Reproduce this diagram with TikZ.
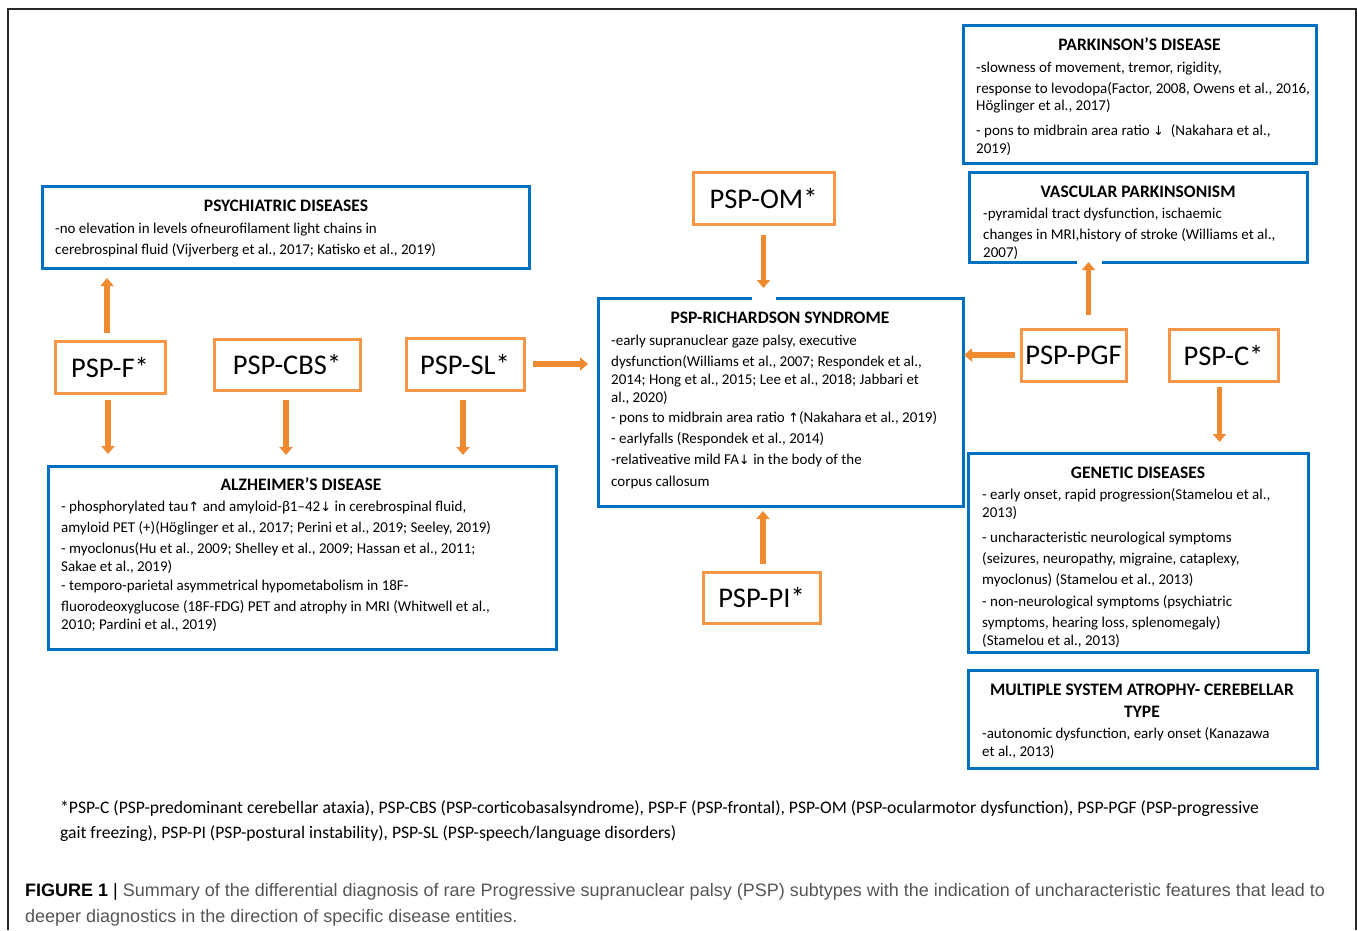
\documentclass[tikz,border=0pt]{standalone}
\usepackage{fontspec}
\setmainfont{Carlito}
\newfontfamily\capfont{Liberation Sans}
\newfontfamily\symfont{DejaVu Sans}
\usetikzlibrary{arrows.meta}
\definecolor{BoxBlue}{RGB}{0,112,192}
\definecolor{BoxOrange}{RGB}{247,150,70}
\definecolor{ArrOrange}{RGB}{240,138,48}
\definecolor{CapGray}{RGB}{85,85,85}
\definecolor{FrameGray}{RGB}{40,40,40}
\newcommand{\up}{{\symfont\fontsize{13}{13}\selectfont ↑}}
\newcommand{\dn}{{\symfont\fontsize{13}{13}\selectfont ↓}}
\tikzset{
  x=1pt, y=-1pt,
  bbox/.style={draw=BoxBlue, line width=3pt, inner sep=0pt, outer sep=0pt, anchor=north west, fill=white},
  obox/.style={draw=BoxOrange, line width=3pt, inner sep=0pt, outer sep=0pt, fill=white, font=\fontsize{28.5}{30}\selectfont},
  ttl/.style={inner sep=0pt, anchor=base, font=\fontsize{17.5}{19}\selectfont\bfseries},
  bdy/.style={inner sep=0pt, anchor=base west, font=\fontsize{15}{17}\selectfont},
  fnt/.style={inner sep=0pt, anchor=base west, font=\fontsize{17.6}{19}\selectfont},
  captext/.style={inner sep=0pt, anchor=base west, font=\capfont\fontsize{18}{20}\selectfont, text=CapGray},
  arr/.style={draw=ArrOrange, line width=5.5pt, -{Triangle[width=13pt,length=8pt]}},
  gap/.style={draw=white, line width=4pt},
}
\begin{document}
\begin{tikzpicture}
\useasboundingbox (0,0) rectangle (1357,930);
% outer frame
\draw[FrameGray, line width=1.5pt] (8,930) -- (8,9) -- (1356,9) -- (1356,930);

% ---------- blue boxes ----------
\node[bbox, minimum width=353, minimum height=138] (pd) at (963,25) {};
\node[ttl] (pdt) at (1139.5,50) {PARKINSON’S DISEASE};
\node[bdy] (pd1) at (976,72) {-slowness of movement, tremor, rigidity,};
\node[bdy] (pd2) at (976,93) {response to levodopa(Factor, 2008, Owens et al., 2016,};
\node[bdy] (pd3) at (976,110) {Höglinger et al., 2017)};
\node[bdy] (pd4) at (976,135) {- pons to midbrain area ratio \dn\ \ (Nakahara et al.,};
\node[bdy] (pd5) at (976,153) {2019)};

\node[bbox, minimum width=338, minimum height=90] (vp) at (969,172) {};
\node[ttl] (vpt) at (1138,197) {VASCULAR PARKINSONISM};
\node[bdy] (vp1) at (983,218) {-pyramidal tract dysfunction, ischaemic};
\node[bdy] (vp2) at (983,239) {changes in MRI,history of stroke (Williams et al.,};
\node[bdy] (vp3) at (983,257) {2007)};

\node[bbox, minimum width=487, minimum height=82] (psy) at (42,186) {};
\node[ttl] (psyt) at (286,211) {PSYCHIATRIC DISEASES};
\node[bdy] (psy1) at (55,233) {-no elevation in levels ofneurofilament light chains in};
\node[bdy] (psy2) at (55,254) {cerebrospinal fluid (Vijverberg et al., 2017; Katisko et al., 2019)};

\node[bbox, minimum width=365, minimum height=208] (rs) at (598,298) {};
\node[ttl] (rst) at (780,323) {PSP-RICHARDSON SYNDROME};
\node[bdy] (rs1) at (611,345) {-early supranuclear gaze palsy, executive};
\node[bdy] (rs2) at (611,366) {dysfunction(Williams et al., 2007; Respondek et al.,};
\node[bdy] (rs3) at (611,384) {2014; Hong et al., 2015; Lee et al., 2018; Jabbari et};
\node[bdy] (rs4) at (611,402) {al., 2020)};
\node[bdy] (rs5) at (611,422) {- pons to midbrain area ratio \up(Nakahara et al., 2019)};
\node[bdy] (rs6) at (611,443) {- earlyfalls (Respondek et al., 2014)};
\node[bdy] (rs7) at (611,464) {-relativeative mild FA\dn\ in the body of the};
\node[bdy] (rs8) at (611,486) {corpus callosum};

\node[bbox, minimum width=508, minimum height=183] (alz) at (48,466) {};
\node[ttl] (alzt) at (301,490) {ALZHEIMER’S DISEASE};
\node[bdy] (alz1) at (61,511) {- phosphorylated tau\up\ and amyloid-β1–42\dn\ in cerebrospinal fluid,};
\node[bdy] (alz2) at (61,532) {amyloid PET (+)(Höglinger et al., 2017; Perini et al., 2019; Seeley, 2019)};
\node[bdy] (alz3) at (61,553) {- myoclonus(Hu et al., 2009; Shelley et al., 2009; Hassan et al., 2011;};
\node[bdy] (alz4) at (61,571) {Sakae et al., 2019)};
\node[bdy] (alz5) at (61,590) {- temporo-parietal asymmetrical hypometabolism in 18F-};
\node[bdy] (alz6) at (61,611) {fluorodeoxyglucose (18F-FDG) PET and atrophy in MRI (Whitwell et al.,};
\node[bdy] (alz7) at (61,629) {2010; Pardini et al., 2019)};

\node[bbox, minimum width=340, minimum height=199] (gen) at (968,453) {};
\node[ttl] (gent) at (1138,478) {GENETIC DISEASES};
\node[bdy] (gen1) at (982,499) {- early onset, rapid progression(Stamelou et al.,};
\node[bdy] (gen2) at (982,517) {2013)};
\node[bdy] (gen3) at (982,542) {- uncharacteristic neurological symptoms};
\node[bdy] (gen4) at (982,563) {(seizures, neuropathy, migraine, cataplexy,};
\node[bdy] (gen5) at (982,584) {myoclonus) (Stamelou et al., 2013)};
\node[bdy] (gen6) at (982,606) {- non-neurological symptoms (psychiatric};
\node[bdy] (gen7) at (982,627) {symptoms, hearing loss, splenomegaly)};
\node[bdy] (gen8) at (982,645) {(Stamelou et al., 2013)};

\node[bbox, minimum width=349, minimum height=98] (msa) at (968,670) {};
\node[ttl] (msat1) at (1142,695) {MULTIPLE SYSTEM ATROPHY- CEREBELLAR};
\node[ttl] (msat2) at (1142,717) {TYPE};
\node[bdy] (msa1) at (982,738) {-autonomic dysfunction, early onset (Kanazawa};
\node[bdy] (msa2) at (982,756) {et al., 2013)};

% ---------- orange boxes ----------
\node[obox, minimum width=141, minimum height=52] (om) at (763.5,198) {PSP-OM*};
\node[obox, minimum width=110, minimum height=52] (psf) at (110,367) {PSP-F*};
\node[obox, minimum width=146, minimum height=51] (cbs) at (287,364.5) {PSP-CBS*};
\node[obox, minimum width=118, minimum height=52] (sl) at (465,364) {PSP-SL*};
\node[obox, minimum width=105, minimum height=52] (pgf) at (1073.5,355) {PSP-PGF};
\node[obox, minimum width=109, minimum height=52] (pc) at (1223.5,355) {PSP-C*};
\node[obox, minimum width=117, minimum height=51] (pi) at (761.5,597.5) {PSP-PI*};

% ---------- small white gaps in borders next to arrow tips ----------
\draw[gap] ([xshift=-12pt]om.south |- rs.north) -- ([xshift=12pt]om.south |- rs.north);
\draw[gap] ([xshift=3pt]pgf.north |- vp.south) -- ([xshift=28pt]pgf.north |- vp.south);

% ---------- arrows ----------
\draw[arr, shorten <=11pt, shorten >=10pt] (om.south) -- (om.south |- rs.north);
\draw[arr, shorten <=8pt, shorten >=10pt] ([xshift=-3pt]psf.north) -- ([xshift=-3pt]psf.north |- psy.south);
\draw[arr, shorten <=7pt, shorten >=12pt] ([xshift=-2pt]psf.south) -- ([xshift=-2pt]psf.south |- alz.north);
\draw[arr, shorten <=10pt, shorten >=11pt] ([xshift=-1pt]cbs.south) -- ([xshift=-1pt]cbs.south |- alz.north);
\draw[arr, shorten <=10pt, shorten >=11pt] ([xshift=-2pt]sl.south) -- ([xshift=-2pt]sl.south |- alz.north);
\draw[arr, shorten <=9pt, shorten >=10pt] (sl.east) -- (sl.east -| rs.west);
\draw[arr, shorten <=6pt, shorten >=1pt] (pgf.west) -- (pgf.west -| rs.east);
\draw[arr, shorten <=14pt, shorten >=0pt] ([xshift=15pt]pgf.north) -- ([xshift=15pt]pgf.north |- vp.south);
\draw[arr, shorten <=6pt, shorten >=11pt] ([xshift=-4pt]pc.south) -- ([xshift=-4pt]pc.south |- gen.north);
\draw[arr, shorten <=8pt, shorten >=5pt] ([xshift=1.5pt]pi.north) -- ([xshift=1.5pt]pi.north |- rs.south);

% ---------- footnote ----------
\node[fnt] (fn1) at (60,813) {*PSP-C (PSP-predominant cerebellar ataxia), PSP-CBS (PSP-corticobasalsyndrome), PSP-F (PSP-frontal), PSP-OM (PSP-ocularmotor dysfunction), PSP-PGF (PSP-progressive};
\node[fnt] (fn2) at (60,838) {gait freezing), PSP-PI (PSP-postural instability), PSP-SL (PSP-speech/language disorders)};

% ---------- caption ----------
\node[captext] (cap1) at (25,896) {{\color{black}\bfseries FIGURE 1} \textcolor{black}{|} Summary of the differential diagnosis of rare Progressive supranuclear palsy (PSP) subtypes with the indication of uncharacteristic features that lead to};
\node[captext] (cap2) at (25,922) {deeper diagnostics in the direction of specific disease entities.};
\end{tikzpicture}
\end{document}
